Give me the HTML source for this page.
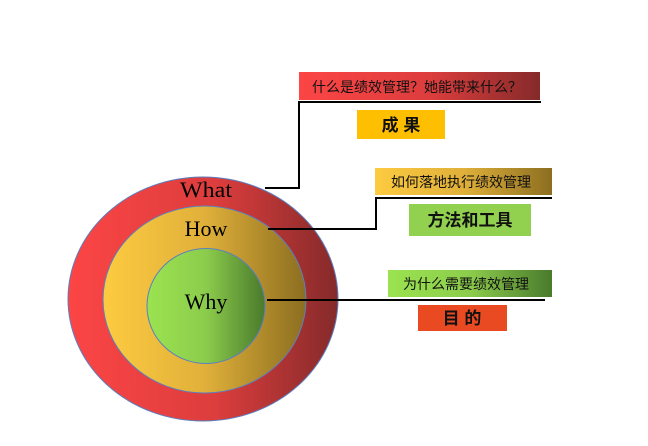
<!DOCTYPE html>
<html><head><meta charset="utf-8"><style>
body{margin:0;width:648px;height:441px;background:#fff;overflow:hidden}
</style></head><body>
<svg width="648" height="441" xmlns="http://www.w3.org/2000/svg">
<defs>
<linearGradient id="r" x1="0" x2="1"><stop offset="0" stop-color="#fc4545"/><stop offset="0.55" stop-color="#dc3d3d"/><stop offset="1" stop-color="#852a2a"/></linearGradient>
<linearGradient id="y" x1="0" x2="1"><stop offset="0" stop-color="#fdcb40"/><stop offset="0.5" stop-color="#e0b03a"/><stop offset="1" stop-color="#8c6e20"/></linearGradient>
<linearGradient id="g" x1="0" x2="1"><stop offset="0" stop-color="#9be350"/><stop offset="0.5" stop-color="#8ccc4c"/><stop offset="1" stop-color="#4a7a2c"/></linearGradient>
</defs>
<ellipse cx="203" cy="299" rx="135" ry="122" fill="url(#r)" stroke="#5b7fc0" stroke-width="1"/>
<ellipse cx="204.5" cy="299.5" rx="101.5" ry="93.5" fill="url(#y)" stroke="#5b7fc0" stroke-width="1"/>
<ellipse cx="206" cy="306" rx="59" ry="57.5" fill="url(#g)" stroke="#5b7fc0" stroke-width="1"/>
<g font-family="Liberation Serif, serif" font-size="22" fill="#000" text-anchor="middle">
<text x="206" y="197" textLength="52" lengthAdjust="spacingAndGlyphs">What</text>
<text x="206" y="236">How</text>
<text x="206" y="309">Why</text>
</g>
<g stroke="#000" stroke-width="2" fill="none">
<polyline points="265,188 299,188 299,102 541,102"/>
<polyline points="268,229 376,229 376,198 552,198"/>
<line x1="267" y1="300" x2="545" y2="300"/>
</g>
<rect x="299" y="72" width="241" height="28" fill="url(#r)"/>
<rect x="357" y="110" width="88" height="29" fill="#fdbf00"/>
<rect x="375" y="168" width="177" height="27" fill="url(#y)"/>
<rect x="409" y="204" width="122" height="32" fill="#92d050"/>
<rect x="388" y="270" width="164" height="27" fill="url(#g)"/>
<rect x="418" y="305" width="89" height="26" fill="#ea4a22"/>
<g font-family="Liberation Sans, Noto Sans CJK SC, sans-serif" fill="#111" text-anchor="middle">
<text x="417" y="92" font-size="14">什么是绩效管理？她能带来什么？</text>
<text x="461" y="187" font-size="14">如何落地执行绩效管理</text>
<text x="466" y="289" font-size="14">为什么需要绩效管理</text>
<text x="401" y="131" font-size="17" font-weight="bold">成 果</text>
<text x="470" y="226" font-size="17" font-weight="bold">方法和工具</text>
<text x="462" y="324" font-size="17" font-weight="bold">目 的</text>
</g>
</svg>
</body></html>
